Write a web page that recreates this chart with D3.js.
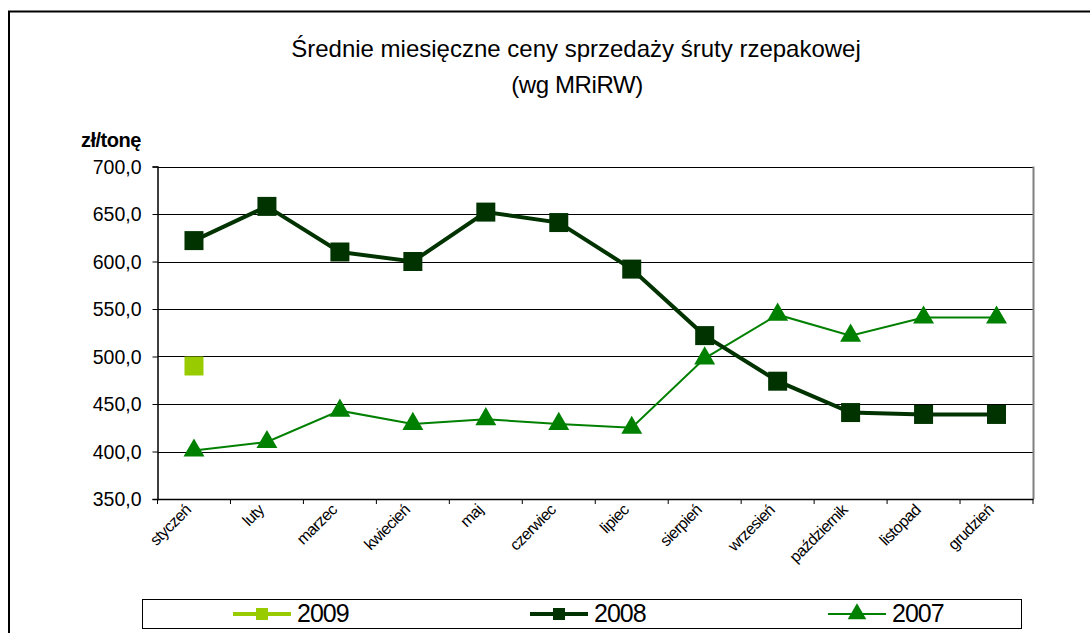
<!DOCTYPE html>
<html><head><meta charset="utf-8">
<script src="https://cdn.jsdelivr.net/npm/d3@7"></script>
<style>body{margin:0;background:#fff}svg{display:block;font-family:"Liberation Sans",Arial,sans-serif}</style>
</head><body>
<svg id="c" width="1090" height="633"></svg>
<script>
const months = ["styczeń","luty","marzec","kwiecień","maj","czerwiec","lipiec","sierpień","wrzesień","październik","listopad","grudzień"];
const v2009 = [490, null, null, null, null, null, null, null, null, null, null, null];
const v2008 = [622, 658, 610, 600, 652, 641, 592, 522, 474, 441, 439, 439];
const v2007 = [401, 410, 443, 429, 434, 429, 425, 498, 544, 522, 541, 541];
const yTicks = [350, 400, 450, 500, 550, 600, 650, 700];
const seriesNames = ["2009", "2008", "2007"];

const svg = d3.select("#c");
const L = 157.5, R = 1033, T = 166.5, B = 499;
const x = d3.scaleBand().domain(months).range([L, R]);
const y = d3.scaleLinear().domain([350, 700]).range([B, T]);

// outer chart border
svg.append("path").attr("d", `M9,633 V11.5 H1090`).attr("fill","none").attr("stroke","#000").attr("stroke-width",2);

// title
svg.append("text").attr("x", 576).attr("y", 57).attr("text-anchor","middle").attr("font-size",24).attr("letter-spacing",0)
  .text("Średnie miesięczne ceny sprzedaży śruty rzepakowej");
svg.append("text").attr("x", 577).attr("y", 93).attr("text-anchor","middle").attr("font-size",24).attr("letter-spacing",-0.4)
  .text("(wg MRiRW)");
svg.append("text").attr("x", 81).attr("y", 147).attr("font-size",20).attr("font-weight","bold").attr("letter-spacing",-0.5).text("zł/tonę");

// gridlines
svg.append("g").selectAll("line").data(yTicks.slice(1)).join("line")
  .attr("x1", L).attr("x2", R).attr("y1", d => Math.round(y(d))+0.5).attr("y2", d => Math.round(y(d))+0.5)
  .attr("stroke", "#000").attr("stroke-width", 1);
// right plot border
svg.append("line").attr("x1", R+0.5).attr("x2", R+0.5).attr("y1", T).attr("y2", B).attr("stroke","#808080").attr("stroke-width",2);

// y axis
const yAxis = d3.axisLeft(y).tickValues(yTicks).tickSize(5).tickFormat(d => d3.format(".1f")(d).replace(".", ","));
const gy = svg.append("g").attr("transform", `translate(${L},0)`).call(yAxis);
gy.select(".domain").attr("stroke","#000").attr("stroke-width",1.5);
gy.selectAll(".tick line").attr("stroke","#000");
gy.selectAll(".tick text").attr("font-size",19.5).attr("font-family","Liberation Sans, Arial, sans-serif").attr("fill","#000").attr("x",-16).attr("dy","0.35em");

// x axis
const xAxis = d3.axisBottom(x).tickSize(0).tickFormat("");
const gx = svg.append("g").attr("transform", `translate(0,${B})`).call(xAxis);
gx.select(".domain").attr("stroke","#000").attr("stroke-width",1.5);
gx.selectAll(".tick").remove();
const bounds = months.map(m => x(m)).concat([R]);
svg.append("g").selectAll("line").data(bounds).join("line")
  .attr("x1", d => d).attr("x2", d => d).attr("y1", B).attr("y2", B+5).attr("stroke","#000");
svg.append("g").selectAll("text").data(months).join("text")
  .attr("transform", d => `translate(${x(d)+x.bandwidth()/2-2},${B+12}) rotate(-45)`)
  .attr("text-anchor","end").attr("font-size",16).attr("letter-spacing",-0.6).text(d => d);

const cx = m => x(m) + x.bandwidth()/2;
const line = d3.line().defined(d => d[1] != null).x(d => cx(d[0])).y(d => y(d[1]));
const sq = d3.symbol().type(d3.symbolSquare).size(19*19);
const tri = d3.symbol().type(d3.symbolTriangle).size(190);

function drawSeries(vals, color, width, symbol) {
  const data = months.map((m, i) => [m, vals[i]]);
  svg.append("path").datum(data).attr("d", line).attr("fill","none").attr("stroke", color).attr("stroke-width", width);
  svg.append("g").selectAll("path").data(data.filter(d => d[1] != null)).join("path")
    .attr("transform", d => `translate(${cx(d[0])},${y(d[1])})`).attr("d", symbol).attr("fill", color);
}
drawSeries(v2007, "#008000", 2, tri);
drawSeries(v2008, "#003300", 4, sq);
drawSeries(v2009, "#99CC00", 4, sq);

// legend
svg.append("rect").attr("x",142.5).attr("y",599.5).attr("width",879).attr("height",29).attr("fill","#fff").attr("stroke","#000").attr("stroke-width",1);
const leg = [
  {name: seriesNames[0], color:"#99CC00", w:4, sym: d3.symbol().type(d3.symbolSquare).size(144), x0:233},
  {name: seriesNames[1], color:"#003300", w:4, sym: d3.symbol().type(d3.symbolSquare).size(144), x0:530},
  {name: seriesNames[2], color:"#008000", w:2, sym: d3.symbol().type(d3.symbolTriangle).size(150), x0:828}
];
leg.forEach(l => {
  svg.append("line").attr("x1", l.x0).attr("x2", l.x0+58).attr("y1", 614).attr("y2", 614).attr("stroke", l.color).attr("stroke-width", l.w);
  svg.append("path").attr("transform", `translate(${l.x0+29},614)`).attr("d", l.sym).attr("fill", l.color);
  svg.append("text").attr("x", l.x0+64).attr("y", 622).attr("font-size",25).attr("letter-spacing",-1).text(l.name);
});
</script>
</body></html>
